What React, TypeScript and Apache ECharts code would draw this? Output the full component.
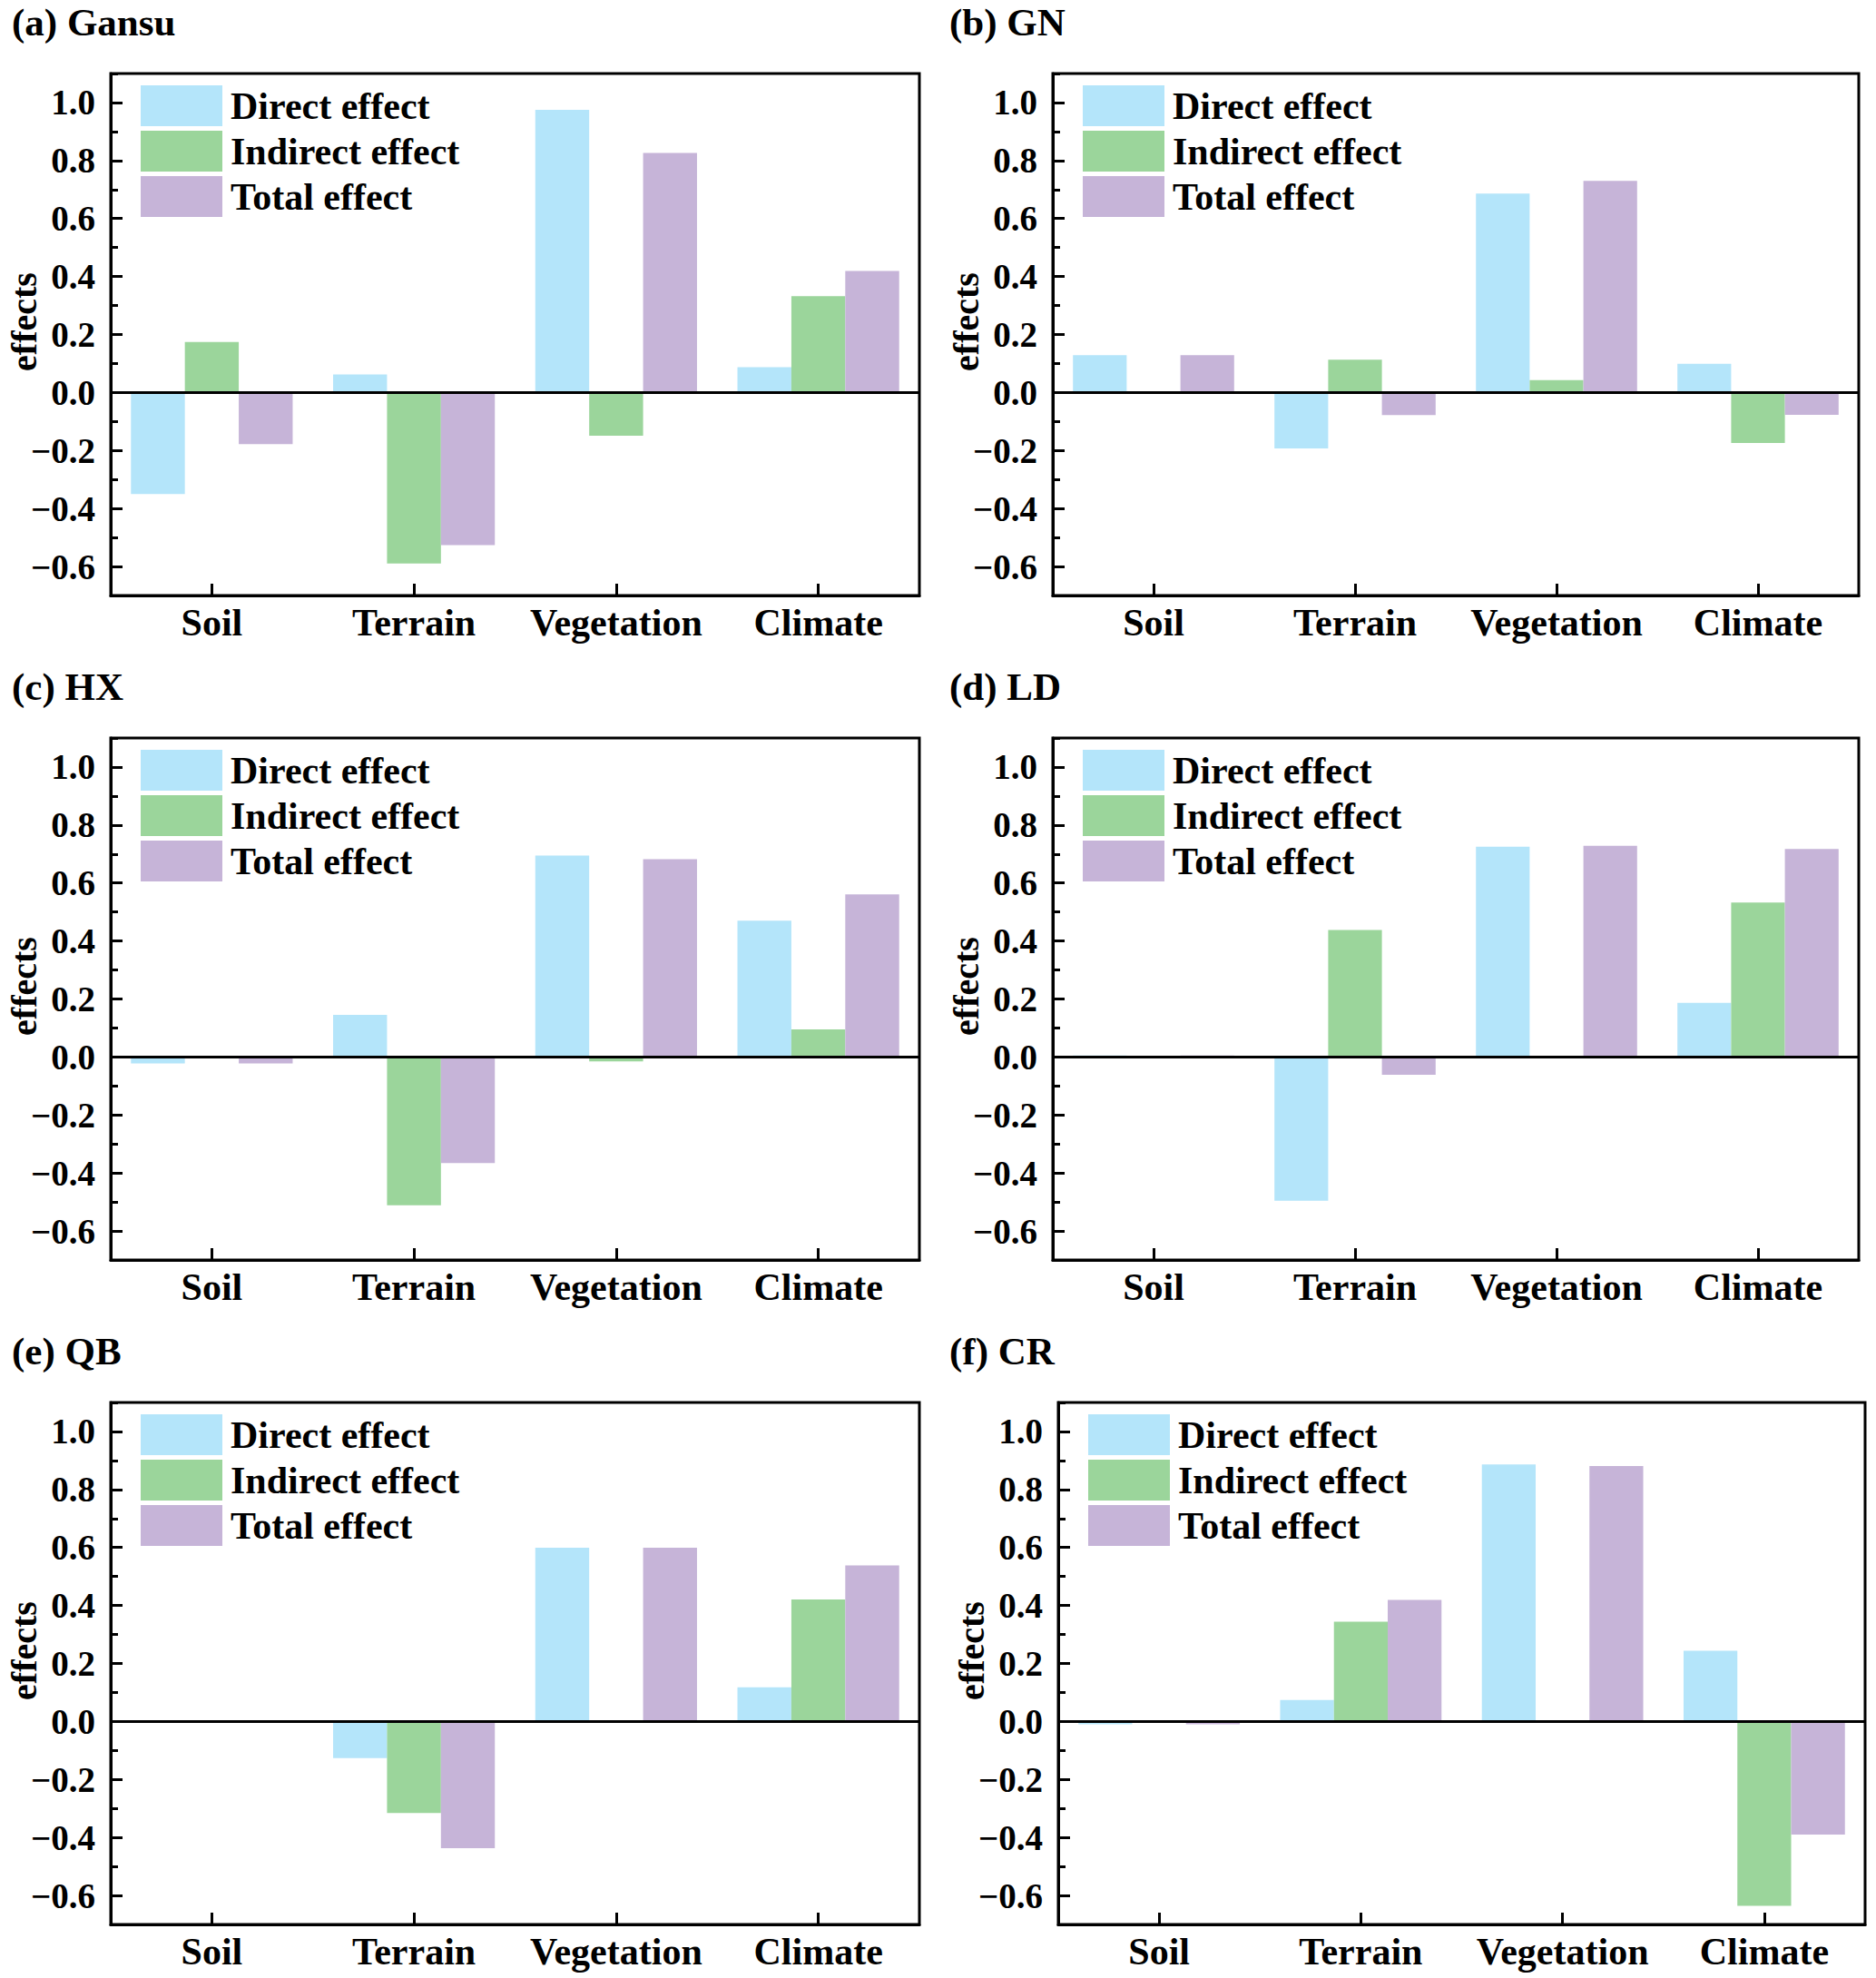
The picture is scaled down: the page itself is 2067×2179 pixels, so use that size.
import React, { useEffect, useRef } from 'react';
import * as echarts from 'echarts';

const categories = ['Soil', 'Terrain', 'Vegetation', 'Climate'];
const panelTitles = ['(a) Gansu', '(b) GN', '(c) HX', '(d) LD', '(e) QB', '(f) CR'];
const seriesNames = ['Direct effect', 'Indirect effect', 'Total effect'];
const seriesColors = ['#B4E5FA', '#9BD59B', '#C6B4D8'];
const yAxisName = 'effects';

const gansuDirect = [-0.35, 0.062, 0.975, 0.087];
const gansuIndirect = [0.174, -0.59, -0.149, 0.332];
const gansuTotal = [-0.178, -0.526, 0.826, 0.419];

const gnDirect = [0.129, -0.193, 0.686, 0.099];
const gnIndirect = [0, 0.113, 0.043, -0.174];
const gnTotal = [0.129, -0.078, 0.73, -0.077];

const hxDirect = [-0.022, 0.145, 0.695, 0.47];
const hxIndirect = [0, -0.511, -0.015, 0.095];
const hxTotal = [-0.022, -0.366, 0.682, 0.561];

const ldDirect = [0.005, -0.496, 0.725, 0.187];
const ldIndirect = [0, 0.438, 0, 0.533];
const ldTotal = [0.005, -0.061, 0.728, 0.717];

const qbDirect = [0, -0.126, 0.599, 0.118];
const qbIndirect = [0, -0.316, 0, 0.421];
const qbTotal = [0, -0.437, 0.599, 0.538];

const crDirect = [-0.01, 0.074, 0.886, 0.244];
const crIndirect = [0, 0.344, 0, -0.636];
const crTotal = [-0.01, 0.419, 0.881, -0.39];

const panelData = [
  [gansuDirect, gansuIndirect, gansuTotal],
  [gnDirect, gnIndirect, gnTotal],
  [hxDirect, hxIndirect, hxTotal],
  [ldDirect, ldIndirect, ldTotal],
  [qbDirect, qbIndirect, qbTotal],
  [crDirect, crIndirect, crTotal],
];

const FONT = "'Liberation Serif', 'Times New Roman', serif";

const gridRects = [
  { left: 122, top: 81, width: 891, height: 575 },
  { left: 1160, top: 81, width: 888, height: 575 },
  { left: 122, top: 813, width: 891, height: 575 },
  { left: 1160, top: 813, width: 888, height: 575 },
  { left: 122, top: 1545, width: 891, height: 575 },
  { left: 1166, top: 1545, width: 889, height: 575 },
];

const titlePos = [
  { left: 13, top: 3 },
  { left: 1046, top: 3 },
  { left: 13, top: 735 },
  { left: 1046, top: 735 },
  { left: 13, top: 1467 },
  { left: 1046, top: 1467 },
];

function yLabel(v: number): string {
  const r = Math.round(v * 10);
  if (r % 2 !== 0) return '';
  const s = Math.abs(r / 10).toFixed(1);
  return r < 0 ? '\u2212' + s : s;
}

function buildOption() {
  const grid: any[] = [];
  const xAxis: any[] = [];
  const yAxis: any[] = [];
  const series: any[] = [];
  const title: any[] = [];
  const legend: any[] = [];

  gridRects.forEach((g, i) => {
    grid.push({
      ...g,
      show: true,
      borderColor: '#000',
      borderWidth: 3,
      backgroundColor: 'transparent',
      containLabel: false,
      outerBoundsMode: 'none',
    });
    title.push({
      text: panelTitles[i],
      left: titlePos[i].left,
      top: titlePos[i].top,
      padding: 0,
      textStyle: { fontFamily: FONT, fontWeight: 'bold', fontSize: 43, color: '#000' },
    });
    legend.push({
      orient: 'vertical',
      left: g.left + 33,
      top: g.top + 13,
      padding: 0,
      itemWidth: 90,
      itemHeight: 45,
      itemGap: 5,
      icon: 'rect',
      selectedMode: false,
      data: seriesNames,
      textStyle: { fontFamily: FONT, fontWeight: 'bold', fontSize: 42, color: '#000', padding: [0, 0, 0, 4] },
    });
    xAxis.push({
      type: 'category',
      gridIndex: i,
      data: categories,
      axisLine: { show: true, onZero: false, lineStyle: { color: '#000', width: 3 } },
      axisTick: { show: true, inside: true, alignWithLabel: true, length: 13, lineStyle: { color: '#000', width: 3 } },
      axisLabel: { interval: 0, fontFamily: FONT, fontWeight: 'bold', fontSize: 42, color: '#000', margin: 9 },
      splitLine: { show: false },
    });
    // main value axis: labels at even tenths, short ticks every 0.1
    yAxis.push({
      type: 'value',
      gridIndex: i,
      position: 'left',
      min: -0.7,
      max: 1.1,
      interval: 0.1,
      name: yAxisName,
      nameLocation: 'middle',
      nameGap: 76,
      nameMoveOverlap: false,
      nameTextStyle: { fontFamily: FONT, fontWeight: 'bold', fontSize: 40, color: '#000', padding: [0, 0, 0, 28] },
      axisLine: { show: true, lineStyle: { color: '#000', width: 3 } },
      axisTick: { show: true, inside: true, length: 8, lineStyle: { color: '#000', width: 3 } },
      axisLabel: { fontFamily: FONT, fontWeight: 'bold', fontSize: 39, color: '#000', margin: 17, formatter: yLabel },
      splitLine: { show: false },
    });
    // overlay axis: longer ticks at the labelled values (minor ticks of a 0.2 grid starting at -0.7)
    yAxis.push({
      type: 'value',
      gridIndex: i,
      position: 'left',
      offset: 0,
      min: -0.7,
      max: 1.1,
      interval: 0.2,
      axisLine: { show: false },
      axisTick: { show: false, inside: true },
      axisLabel: { show: false },
      splitLine: { show: false },
      minorTick: { show: true, splitNumber: 2, length: 13, lineStyle: { color: '#000', width: 3 } },
      minorSplitLine: { show: false },
    });

    panelData[i].forEach((vals, k) => {
      const s: any = {
        type: 'bar',
        name: seriesNames[k],
        xAxisIndex: i,
        yAxisIndex: 2 * i,
        data: vals,
        barGap: '0%',
        barCategoryGap: '20%',
        itemStyle: { color: seriesColors[k] },
        emphasis: { disabled: true },
        silent: true,
      };
      if (k === 0) {
        s.markLine = {
          silent: true,
          symbol: 'none',
          animation: false,
          label: { show: false },
          lineStyle: { color: '#000', width: 3, type: 'solid' },
          data: [{ yAxis: 0 }],
        };
      }
      series.push(s);
    });
  });

  return {
    animation: false,
    backgroundColor: '#fff',
    color: seriesColors,
    textStyle: { fontFamily: FONT },
    title,
    legend,
    grid,
    xAxis,
    yAxis,
    series,
  };
}

export default function App() {
  const ref = useRef<HTMLDivElement>(null);
  useEffect(() => {
    if (!ref.current) return;
    const chart = echarts.init(ref.current, null, { renderer: 'svg' });
    chart.setOption(buildOption() as any);
    return () => {
      chart.dispose();
    };
  }, []);
  return (
    <div
      ref={ref}
      style={{ position: 'absolute', left: 0, top: 0, width: 2067, height: 2179, background: '#fff' }}
    />
  );
}
